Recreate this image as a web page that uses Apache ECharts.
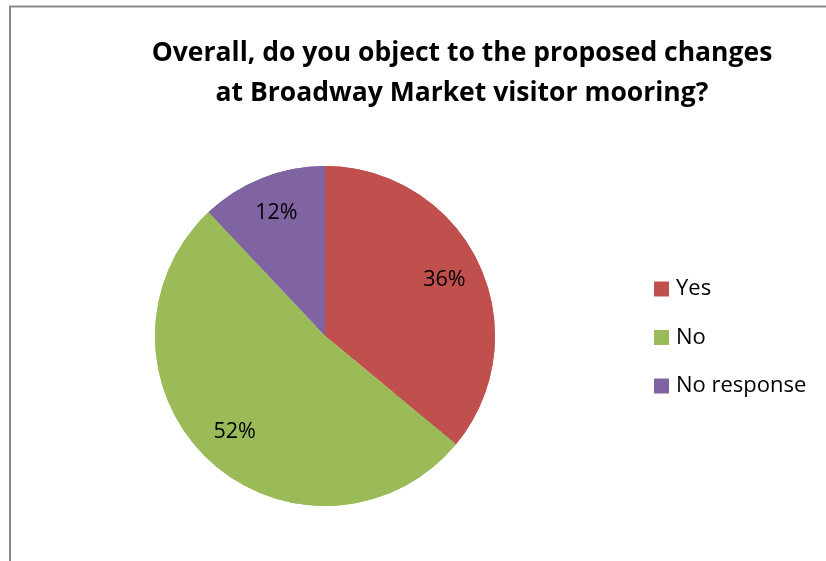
<!DOCTYPE html>
<html>
<head>
<meta charset="utf-8">
<script src="https://cdn.jsdelivr.net/npm/echarts@6/dist/echarts.min.js"></script>
<style>
html,body{margin:0;padding:0;background:#fff;}
#c{width:826px;height:561px;}
</style>
</head>
<body>
<div id="c"></div>
<script>
var categories = ['Yes', 'No', 'No response'];
var values = [36, 52, 12];
var colors = ['#C0504D', '#9BBB59', '#8064A2'];
var titleText = 'Overall, do you object to the proposed changes\nat Broadway Market visitor mooring?';

var font = 'Open Sans';
var data = categories.map(function (c, i) {
  return { name: c, value: values[i], itemStyle: { color: colors[i] } };
});

var chart = echarts.init(document.getElementById('c'), null, { renderer: 'canvas' });
chart.setOption({
  backgroundColor: '#fff',
  animation: false,
  graphic: [{
    type: 'rect',
    shape: { x: 10, y: 6.5, width: 900, height: 700 },
    style: { fill: 'none', stroke: '#8a8a8a', lineWidth: 2 },
    silent: true
  }],
  title: {
    text: titleText,
    left: 462,
    top: 33,
    padding: 0,
    textAlign: 'center',
    textStyle: {
      fontFamily: font, fontWeight: 'bold', fontSize: 26.5, color: '#000',
      lineHeight: 40, align: 'center'
    }
  },
  legend: {
    orient: 'vertical',
    left: 654,
    top: 278,
    padding: 0,
    itemWidth: 15,
    itemHeight: 15,
    itemGap: 26.5,
    icon: 'rect',
    data: categories,
    textStyle: { fontFamily: font, fontSize: 22, lineHeight: 22, color: '#000', padding: [0, 0, 0, 2] }
  },
  series: [{
    type: 'pie',
    center: [325, 336],
    radius: 170,
    startAngle: 90,
    clockwise: true,
    data: data,
    label: { show: false },
    labelLine: { show: false },
    emphasis: { disabled: true },
    silent: true
  }, {
    type: 'pie',
    center: [325, 336],
    radius: [88, 170],
    startAngle: 90,
    clockwise: true,
    data: data,
    legendHoverLink: false,
    itemStyle: { color: 'rgba(0,0,0,0)' },
    label: {
      show: true, position: 'inside',
      formatter: '{d}%',
      fontFamily: font, fontSize: 21.5, color: '#000'
    },
    labelLine: { show: false },
    emphasis: { disabled: true },
    silent: true
  }]
});
</script>
</body>
</html>
